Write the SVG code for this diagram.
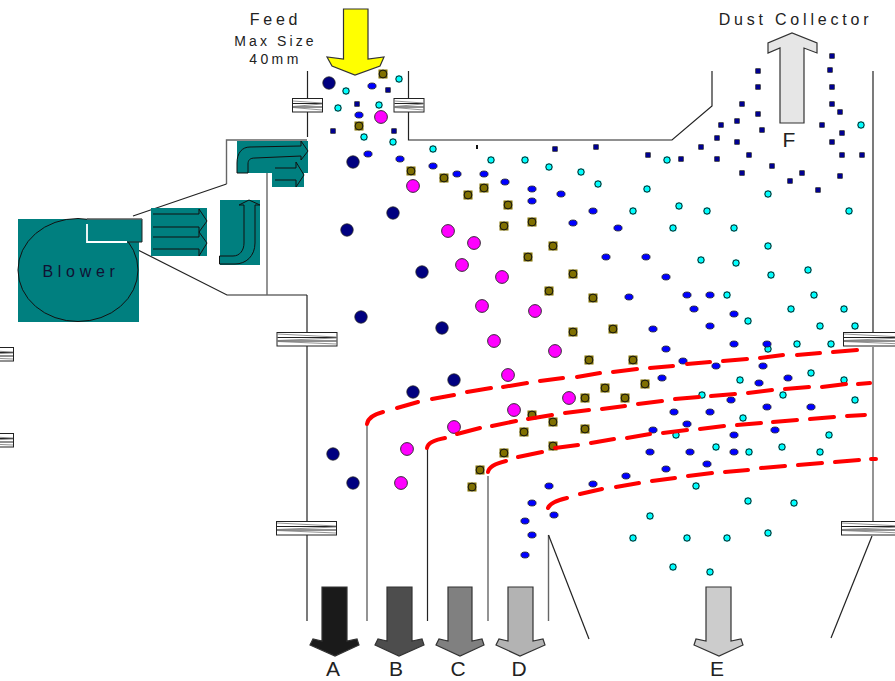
<svg xmlns="http://www.w3.org/2000/svg" width="895" height="681" viewBox="0 0 895 681">
<style>
.w{fill:none;stroke:#222;stroke-width:1.2}
.g{fill:none;stroke:#666;stroke-width:1.4}
.a{stroke:#333;stroke-width:1.2}
.t{fill:#007f7f}
.o{fill:none;stroke:#111;stroke-width:1}
.r{fill:none;stroke:#f00;stroke-width:4;stroke-linecap:round}
text{font-family:"Liberation Sans",Arial,sans-serif;fill:#222}
.c{text-anchor:middle}
.l{font-size:21px}
</style>
<defs>
<circle id="n" r="6.200" fill="#000080" stroke="#222" stroke-width="0.8"/>
<circle id="m" r="6.400" fill="#f0f" stroke="#222" stroke-width="0.9"/>
<g id="y"><rect x="-4.500" y="-4.500" width="9" height="9" fill="#807000"/><circle r="3.900" fill="#807000" stroke="#111" stroke-width="1"/></g>
<g id="c"><rect x="-3.200" y="-3.200" width="6.400" height="6.400" fill="#0ff"/><circle r="3.200" fill="#0ff" stroke="#111" stroke-width="1"/></g>
<ellipse id="b" rx="4.100" ry="3" fill="#00f" stroke="#222" stroke-width="0.8"/>
<rect id="s" x="-2.300" y="-2.300" width="4.600" height="4.600" fill="#000090" stroke="#111" stroke-width="0.6"/>
<g id="f1"><rect x="0.500" y="0.500" width="30" height="13.500" fill="#fff" stroke="#222" stroke-width="1"/><path d="M1,5.500 H30 M1,9 H30" stroke="#222" stroke-width="1" fill="none"/><path d="M1,3 L30,5 M30,6 L1,8.500 M1,9.500 L30,12" stroke="#777" stroke-width="0.8" fill="none"/></g>
<g id="f2"><rect x="0.500" y="0.500" width="60" height="13.500" fill="#fff" stroke="#222" stroke-width="1"/><path d="M1,5.500 H60 M1,9 H60" stroke="#222" stroke-width="1" fill="none"/><path d="M1,2 L60,5 M60,6 L1,8.500 M1,9.500 L60,12" stroke="#777" stroke-width="0.8" fill="none"/></g>
</defs>

<g id="walls">
<path class="w" d="M307.500,71 V137"/>
<path class="w" d="M408.500,71 V140 H672 L712,106 V71"/>
<path class="g" d="M226.500,184 V140 H307"/>
<path class="w" d="M226.500,184 L133,216 M138,250 L227,295 H307"/>
<path class="g" d="M267,173 V295"/>
<path class="w" d="M307,295 V621"/>
<path class="g" d="M367,424 V621"/>
<path class="w" d="M427.500,449 V621"/>
<path class="g" d="M488,476 V621"/>
<path class="g" d="M548.500,535 V621"/>
<path class="w" d="M548.500,535 L589,639"/>
<path class="w" d="M873,71 V333"/>
<path class="g" d="M873,347 V521"/>
<path class="w" d="M872,536 L831,638"/>
</g>

<g id="flanges">
<use href="#f1" x="292" y="98"/>
<use href="#f1" x="393.500" y="98"/>
<use href="#f2" x="276.500" y="332"/>
<use href="#f2" x="276" y="521"/>
<use href="#f2" x="843" y="332"/>
<use href="#f2" x="841" y="521"/>
<use href="#f2" x="-47" y="347"/>
<use href="#f2" x="-47" y="433"/>
</g>

<g id="blower">
<rect class="t" x="18" y="219" width="121" height="103"/>
<ellipse cx="78" cy="270" rx="60" ry="51.500" fill="none" stroke="#111" stroke-width="1"/>
<rect class="t" x="87" y="219" width="55" height="23"/>
<path d="M87,219 H142 V242 H127" fill="none" stroke="#222" stroke-width="1"/>
<path d="M87,219 H142" fill="none" stroke="#777" stroke-width="1"/>
<path d="M87,224 V242 H127" fill="none" stroke="#fff" stroke-width="1.800"/>
<text x="81" y="277" class="c" font-size="16" letter-spacing="4.700" style="fill:#113">Blower</text>
</g>

<g id="air-arrows">
<rect class="t" x="151" y="208" width="56" height="48"/>
<path class="o" d="M153,214 H199 V209 L207,221 L199,232 V227 H153 M153,237 H199 V232 L207,243 L199,256 V249 H153"/>
<rect class="t" x="220" y="200" width="40" height="65"/>
<path class="o" d="M219.500,256 H233 C240,256 244,250 244,243 V205 H239 L249,200 L260,205 H255 V243 C255,256 246,264 235,264 H219.500 Z"/>
<rect class="t" x="237" y="141" width="71" height="32"/>
<rect class="t" x="272" y="167" width="32" height="20"/>
<path class="o" d="M237,173 V163 C237,153 242,147 250,147 L301,146 V141 L308,151 L301,160 V156 L255,158 C250,158 248,160 248,164 V173 Z"/>
<path class="o" d="M275,168 H296 V162 L304,175 L296,187 V180 H275"/>
</g>

<g id="particles">
<use href="#c" x="399" y="79"/><use href="#c" x="346" y="91"/><use href="#c" x="338" y="108"/><use href="#c" x="379" y="105"/><use href="#c" x="364" y="137"/><use href="#c" x="393" y="142"/><use href="#c" x="433" y="149"/><use href="#c" x="491" y="160"/><use href="#c" x="525" y="160"/><use href="#c" x="549" y="167"/><use href="#c" x="581" y="172"/><use href="#c" x="598" y="184"/><use href="#c" x="647" y="189"/><use href="#c" x="633" y="211"/><use href="#c" x="667" y="160"/><use href="#c" x="861" y="125"/><use href="#c" x="768" y="194"/><use href="#c" x="679" y="206"/><use href="#c" x="707" y="211"/><use href="#c" x="849" y="211"/><use href="#c" x="673" y="228"/><use href="#c" x="734" y="228"/><use href="#c" x="768" y="246"/><use href="#c" x="701" y="260"/><use href="#c" x="736" y="263"/><use href="#c" x="771" y="275"/><use href="#c" x="808" y="270"/><use href="#c" x="727" y="295"/><use href="#c" x="814" y="295"/><use href="#c" x="791" y="309"/><use href="#c" x="844" y="309"/><use href="#c" x="748" y="321"/><use href="#c" x="820" y="326"/><use href="#c" x="855" y="326"/><use href="#c" x="797" y="344"/><use href="#c" x="831" y="344"/><use href="#c" x="768" y="349"/><use href="#c" x="811" y="373"/><use href="#c" x="740" y="380"/><use href="#c" x="844" y="380"/><use href="#c" x="702" y="395"/><use href="#c" x="783" y="395"/><use href="#c" x="855" y="400"/><use href="#c" x="743" y="418"/><use href="#c" x="676" y="435"/><use href="#c" x="829" y="435"/><use href="#c" x="716" y="447"/><use href="#c" x="782" y="447"/><use href="#c" x="749" y="452"/><use href="#c" x="820" y="452"/><use href="#c" x="696" y="486"/><use href="#c" x="748" y="501"/><use href="#c" x="794" y="503"/><use href="#c" x="650" y="516"/><use href="#c" x="633" y="538"/><use href="#c" x="687" y="538"/><use href="#c" x="727" y="538"/><use href="#c" x="768" y="533"/><use href="#c" x="673" y="567"/><use href="#c" x="710" y="572"/>

<use href="#s" x="388" y="90"/><use href="#s" x="357" y="104"/><use href="#s" x="333" y="131"/><use href="#s" x="394" y="131"/><use href="#s" x="832" y="56"/><use href="#s" x="758" y="71"/><use href="#s" x="830" y="70"/><use href="#s" x="758" y="87"/><use href="#s" x="832" y="87"/><use href="#s" x="742" y="104"/><use href="#s" x="832" y="104"/><use href="#s" x="840" y="112"/><use href="#s" x="758" y="114"/><use href="#s" x="737" y="121"/><use href="#s" x="721" y="125"/><use href="#s" x="822" y="125"/><use href="#s" x="762" y="130"/><use href="#s" x="842" y="133"/><use href="#s" x="717" y="138"/><use href="#s" x="701" y="147"/><use href="#s" x="737" y="142"/><use href="#s" x="832" y="142"/><use href="#s" x="749" y="155"/><use href="#s" x="842" y="155"/><use href="#s" x="862" y="155"/><use href="#s" x="648" y="155"/><use href="#s" x="681" y="159"/><use href="#s" x="717" y="159"/><use href="#s" x="772" y="166"/><use href="#s" x="742" y="173"/><use href="#s" x="802" y="173"/><use href="#s" x="840" y="176"/><use href="#s" x="790" y="181"/><use href="#s" x="818" y="190"/><use href="#s" x="555" y="149"/><use href="#s" x="596" y="147"/>
<rect x="476" y="145" width="2" height="4" fill="#111"/>

<use href="#b" x="372" y="86"/><use href="#b" x="359" y="115"/><use href="#b" x="368" y="154"/><use href="#b" x="400" y="159"/><use href="#b" x="433" y="166"/><use href="#b" x="457" y="174"/><use href="#b" x="484" y="174"/><use href="#b" x="505" y="182"/><use href="#b" x="532" y="189"/><use href="#b" x="561" y="194"/><use href="#b" x="532" y="201"/><use href="#b" x="593" y="211"/><use href="#b" x="573" y="223"/><use href="#b" x="618" y="228"/><use href="#b" x="606" y="257"/><use href="#b" x="646" y="257"/><use href="#b" x="666" y="277"/><use href="#b" x="629" y="297"/><use href="#b" x="687" y="295"/><use href="#b" x="710" y="295"/><use href="#b" x="694" y="309"/><use href="#b" x="734" y="314"/><use href="#b" x="653" y="329"/><use href="#b" x="710" y="326"/><use href="#b" x="666" y="349"/><use href="#b" x="734" y="344"/><use href="#b" x="767" y="344"/><use href="#b" x="683" y="361"/><use href="#b" x="716" y="366"/><use href="#b" x="763" y="366"/><use href="#b" x="662" y="378"/><use href="#b" x="759" y="383"/><use href="#b" x="788" y="378"/><use href="#b" x="731" y="400"/><use href="#b" x="674" y="412"/><use href="#b" x="710" y="412"/><use href="#b" x="767" y="407"/><use href="#b" x="811" y="407"/><use href="#b" x="653" y="430"/><use href="#b" x="687" y="424"/><use href="#b" x="734" y="435"/><use href="#b" x="775" y="430"/><use href="#b" x="650" y="452"/><use href="#b" x="690" y="452"/><use href="#b" x="734" y="452"/><use href="#b" x="707" y="464"/><use href="#b" x="666" y="469"/><use href="#b" x="626" y="476"/><use href="#b" x="593" y="484"/><use href="#b" x="549" y="486"/><use href="#b" x="532" y="503"/><use href="#b" x="554" y="515"/><use href="#b" x="525" y="521"/><use href="#b" x="532" y="535"/><use href="#b" x="525" y="555"/>

<use href="#y" x="383" y="74"/><use href="#y" x="359" y="126"/><use href="#y" x="411" y="171"/><use href="#y" x="444" y="178"/><use href="#y" x="468" y="195"/><use href="#y" x="484" y="188"/><use href="#y" x="508" y="205"/><use href="#y" x="504" y="226"/><use href="#y" x="532" y="222"/><use href="#y" x="528" y="257"/><use href="#y" x="553" y="246"/><use href="#y" x="573" y="274"/><use href="#y" x="549" y="291"/><use href="#y" x="593" y="298"/><use href="#y" x="573" y="332"/><use href="#y" x="613" y="329"/><use href="#y" x="589" y="360"/><use href="#y" x="633" y="360"/><use href="#y" x="605" y="388"/><use href="#y" x="645" y="384"/><use href="#y" x="585" y="398"/><use href="#y" x="625" y="398"/><use href="#y" x="532" y="415"/><use href="#y" x="553" y="422"/><use href="#y" x="524" y="432"/><use href="#y" x="585" y="429"/><use href="#y" x="553" y="446"/><use href="#y" x="504" y="453"/><use href="#y" x="480" y="470"/><use href="#y" x="472" y="487"/>

<use href="#m" x="381" y="117"/><use href="#m" x="413" y="186"/><use href="#m" x="448" y="231"/><use href="#m" x="474" y="243"/><use href="#m" x="462" y="265"/><use href="#m" x="502" y="277"/><use href="#m" x="482" y="306"/><use href="#m" x="535" y="311"/><use href="#m" x="494" y="341"/><use href="#m" x="555" y="351"/><use href="#m" x="508" y="375"/><use href="#m" x="569" y="398"/><use href="#m" x="514" y="410"/><use href="#m" x="454" y="427"/><use href="#m" x="407" y="449"/><use href="#m" x="401" y="483"/>

<use href="#n" x="329" y="83"/><use href="#n" x="353" y="162"/><use href="#n" x="393" y="213"/><use href="#n" x="347" y="230"/><use href="#n" x="422" y="272"/><use href="#n" x="361" y="317"/><use href="#n" x="442" y="328"/><use href="#n" x="454" y="380"/><use href="#n" x="413" y="392"/><use href="#n" x="333" y="454"/><use href="#n" x="353" y="483"/>
</g>

<g id="cut-lines">
<path class="r" d="M367,424 Q368,416 383,412 M397,408 L418,402 M432,399 L454,395 M467,392 L491,388 M503,387 L527,383 M540,381 L563,378 M577,377 L600,373 M613,372 L637,369 M650,368 L673,366 M687,364 L710,362 M723,361 L747,359 M760,358 L783,355 M797,355 L820,353 M833,352 L857,350"/>
<path class="r" d="M427,448 Q428,441 445,438 M457,434 L480,428 M492,426 L516,421 M528,419 L552,415 M565,413 L589,410 M602,409 L625,406 M638,404 L662,401 M675,399 L699,397 M711,396 L735,394 M748,393 L772,390 M785,389 L809,387 M822,387 L846,384 M858,384 L870,383"/>
<path class="r" d="M488,472 Q489,465 506,461 M518,457 L542,452 M555,448 L578,445 M591,443 L614,439 M627,438 L650,434 M663,433 L687,430 M700,429 L724,426 M737,425 L761,423 M773,422 L797,420 M810,419 L834,417 M847,416 L865,415"/>
<path class="r" d="M548,508 Q550,502 567,498 M580,494 L602,489 M616,487 L639,483 M652,481 L675,478 M688,476 L712,473 M725,472 L748,470 M761,468 L785,466 M798,465 L822,463 M835,462 L859,460 M871,459 L876,459"/>
</g>

<g id="arrows">
<path class="a" fill="#ff0" d="M343.500,9 H368 V59 L384,57 L380,66 L355,75 L332,66 L327,57 L343.500,59 Z"/>
<path class="a" fill="#e6e6e6" d="M780,123 V48 L768,53 V43 L792,33 L817,43 V53 L804,48 V123 Z"/>
<path class="a" fill="#1a1a1a" d="M322,587 H347 V641 L357,639 L359,645 L335,656 L310,645 L313,639 L322,641 Z"/>
<path class="a" fill="#4d4d4d" d="M387,587 H412 V641 L422,639 L424,645 L399,656 L375,645 L378,639 L387,641 Z"/>
<path class="a" fill="#808080" d="M448,587 H472 V641 L482,639 L484,645 L460,656 L436,645 L439,639 L448,641 Z"/>
<path class="a" fill="#b3b3b3" d="M508,587 H533 V641 L543,639 L545,645 L520,656 L496,645 L499,639 L508,641 Z"/>
<path class="a" fill="#ccc" d="M706,587 H731 V641 L741,639 L743,645 L719,656 L694,645 L696,639 L706,641 Z"/>
</g>

<g id="labels">
<text x="275.500" y="25" class="c" font-size="16" letter-spacing="3.700">Feed</text>
<text x="275.500" y="46" class="c" font-size="14" letter-spacing="3.100">Max Size</text>
<text x="275.500" y="64" class="c" font-size="14" letter-spacing="3.400">40mm</text>
<text x="795.500" y="25" class="c" font-size="16" letter-spacing="3.800">Dust Collector</text>
<text x="333" y="676" class="c l">A</text>
<text x="396" y="676" class="c l">B</text>
<text x="458" y="676" class="c l">C</text>
<text x="519" y="676" class="c l">D</text>
<text x="717" y="676" class="c l">E</text>
<text x="789" y="147" class="c l">F</text>
</g>
</svg>
